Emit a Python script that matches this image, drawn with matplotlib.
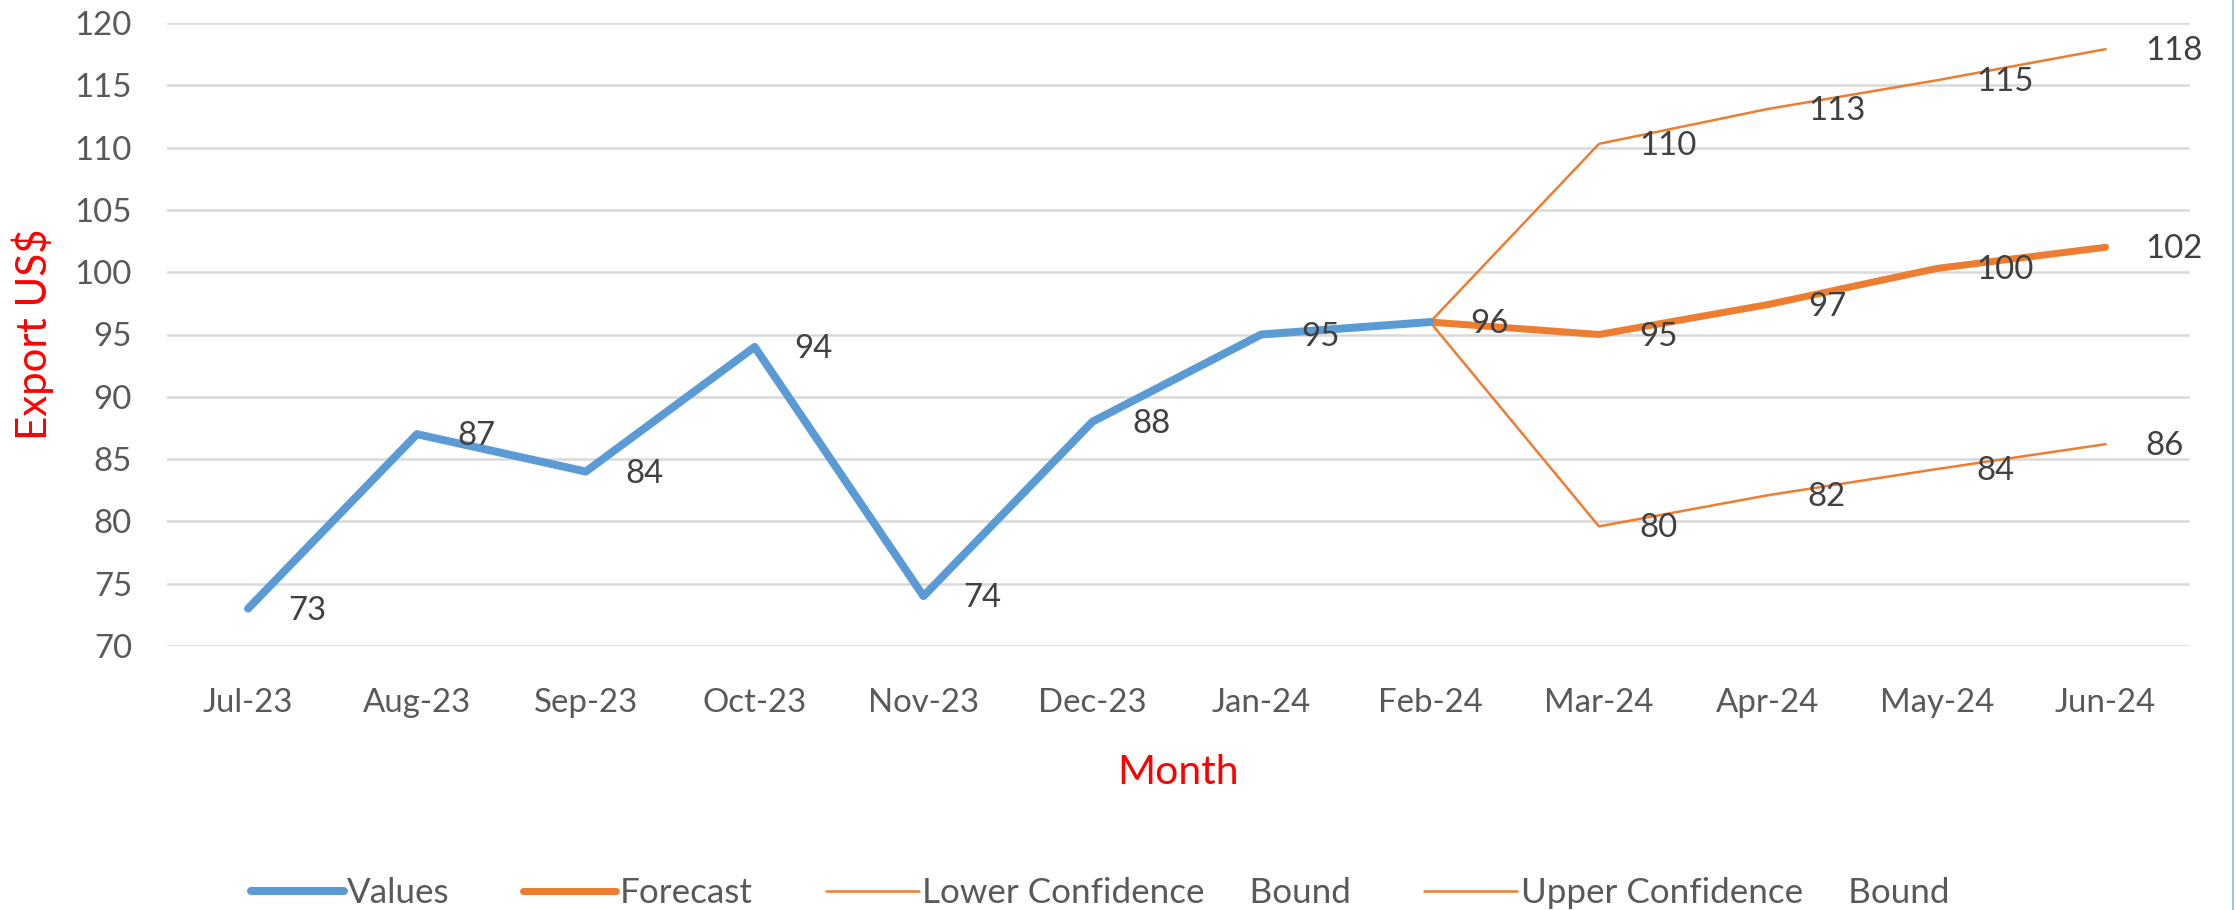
import matplotlib
matplotlib.use("Agg")
import matplotlib.pyplot as plt
from matplotlib.lines import Line2D
import numpy as np

# ---- data ----
months = ["Jul-23", "Aug-23", "Sep-23", "Oct-23", "Nov-23", "Dec-23",
          "Jan-24", "Feb-24", "Mar-24", "Apr-24", "May-24", "Jun-24"]
values = [73, 87, 84, 94, 74, 88, 95, 96]                 # Jul-23 .. Feb-24
forecast_months = ["Feb-24", "Mar-24", "Apr-24", "May-24", "Jun-24"]
forecast = [96, 95.0, 97.4, 100.3, 102.0]
lower_bound = [96, 79.6, 82.1, 84.2, 86.2]
upper_bound = [96, 110.3, 113.1, 115.4, 117.9]
y_ticks = [70, 75, 80, 85, 90, 95, 100, 105, 110, 115, 120]

# ---- style ----
FONT = ["Lato", "DejaVu Sans"]
plt.rcParams["font.family"] = FONT
BLUE = "#5B9BD5"
ORANGE = "#ED7D31"
GRID = "#D9D9D9"
TICK = "#595959"
LABEL = "#404040"
RED = "#FF0000"

W, H = 2236, 910
fig = plt.figure(figsize=(W / 72, H / 72), dpi=72)
fig.patch.set_facecolor("white")
ax = fig.add_axes([167 / W, 1 - 646 / H, (2190 - 167) / W, (646 - 23) / H])

x_all = np.arange(len(months))
x_val = x_all[:len(values)]
x_fc = np.array([months.index(m) for m in forecast_months])

line_kw = dict(solid_joinstyle="round", solid_capstyle="round")
ax.plot(x_fc, upper_bound, color=ORANGE, lw=2.5, label="Upper Confidence     Bound", zorder=3, **line_kw)
ax.plot(x_fc, lower_bound, color=ORANGE, lw=2.5, label="Lower Confidence     Bound", zorder=3, **line_kw)
ax.plot(x_fc, forecast, color=ORANGE, lw=7, label="Forecast", zorder=4, **line_kw)
ax.plot(x_val, values, color=BLUE, lw=8, label="Values", zorder=5, **line_kw)

# data labels (right of points)
def put_labels(xs, ys):
    for x, y in zip(xs, ys):
        ax.annotate(f"{round(y):d}", (x, y), xytext=(40, -2), textcoords="offset points",
                    ha="left", va="center", fontsize=33, color=LABEL, zorder=6)

put_labels(x_val, values)
put_labels(x_fc[1:], forecast[1:])
put_labels(x_fc[1:], lower_bound[1:])
put_labels(x_fc[1:], upper_bound[1:])

ax.set_xlim(-0.48, 11.5)
ax.set_ylim(70, 120)
ax.set_yticks(y_ticks)
ax.set_xticks(x_all)
ax.set_xticklabels(months)
ax.tick_params(axis="both", length=0, labelsize=33, labelcolor=TICK)
ax.tick_params(axis="y", pad=35)
ax.tick_params(axis="x", pad=42)
ax.grid(axis="y", color=GRID, lw=2.5)
ax.set_axisbelow(True)
for s in ax.spines.values():
    s.set_visible(False)

fig.text(33 / W, 1 - 334 / H, "Export US$", rotation=90, ha="center", va="center",
         fontsize=42, color=RED)
fig.text(1178 / W, 1 - 772 / H, "Month", ha="center", va="center", fontsize=41, color=RED)

handles, labels = ax.get_legend_handles_labels()
order = [3, 2, 1, 0]
leg = fig.legend([handles[i] for i in order], [labels[i] for i in order],
                 loc="center", bbox_to_anchor=(1100 / W, 1 - 893 / H), ncol=4, frameon=False,
                 fontsize=35, handlelength=2.65, handletextpad=0.1, columnspacing=2.1,
                 labelcolor=TICK)

# thin right border of the image
fig.add_artist(Line2D([2232.5 / W, 2232.5 / W], [0, 1], transform=fig.transFigure,
                      color="#9DC3E6", lw=2))

fig.savefig("out.png", dpi=72, facecolor="white")
